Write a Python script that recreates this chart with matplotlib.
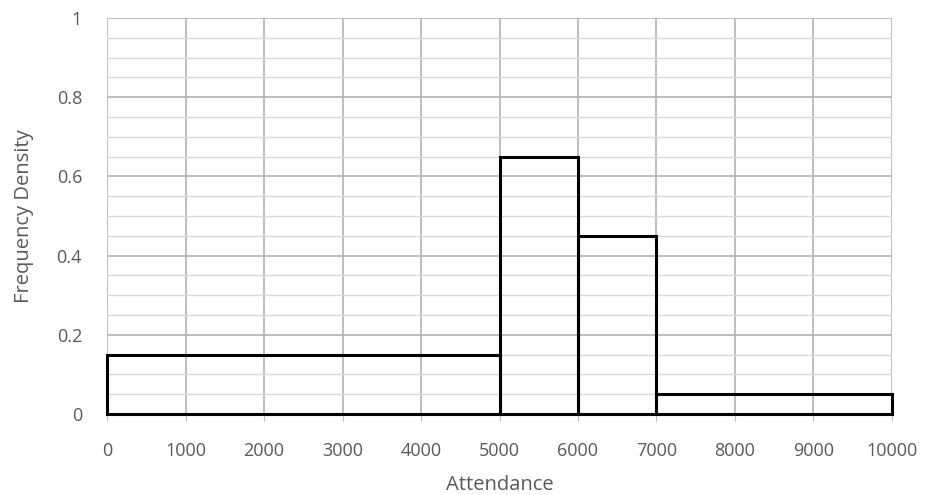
import matplotlib
matplotlib.use("Agg")
import matplotlib.pyplot as plt
from matplotlib.ticker import MultipleLocator

# class boundaries and frequency densities
left_edges = [0, 5000, 6000, 7000]
widths = [5000, 1000, 1000, 3000]
density = [0.15, 0.65, 0.45, 0.05]
x_ticks = list(range(0, 10001, 1000))
y_ticks = [0, 0.2, 0.4, 0.6, 0.8, 1]
y_labels = ["0", "0.2", "0.4", "0.6", "0.8", "1"]

plt.rcParams["font.family"] = ["Open Sans", "DejaVu Sans"]
TXT = "#595959"

fig = plt.figure(figsize=(9.25, 4.95), dpi=100)
ax = fig.add_axes([0.1157, 0.1636, 0.8486, 0.8000])

ax.set_xlim(0, 10000); ax.set_ylim(0, 1)
ax.set_xticks(x_ticks); ax.set_yticks(y_ticks)
ax.set_yticklabels(y_labels)
ax.yaxis.set_minor_locator(MultipleLocator(0.05))
ax.grid(which="minor", axis="y", color="#d9d9d9", lw=1.0)
ax.grid(which="major", axis="y", color="#b3b3b3", lw=1.2)
ax.grid(which="major", axis="x", color="#b3b3b3", lw=1.2)
ax.set_axisbelow(True)

ax.bar(left_edges, density, width=widths, align="edge", fill=False,
       edgecolor="black", lw=2.2, clip_on=False, zorder=3)

for s in ["top", "left", "right"]:
    ax.spines[s].set_visible(False)
ax.spines["bottom"].set_color("#b3b3b3")
ax.tick_params(axis="x", which="major", length=5, color="#bfbfbf", pad=15,
               labelsize=13, labelcolor=TXT)
ax.tick_params(axis="y", which="both", length=0, pad=18, labelsize=13, labelcolor=TXT)

ax.set_xlabel("Attendance", fontsize=14.5, color=TXT, labelpad=11)
ax.set_ylabel("Frequency Density", fontsize=14.5, color=TXT, labelpad=16)

fig.savefig("out.png", dpi=100)
